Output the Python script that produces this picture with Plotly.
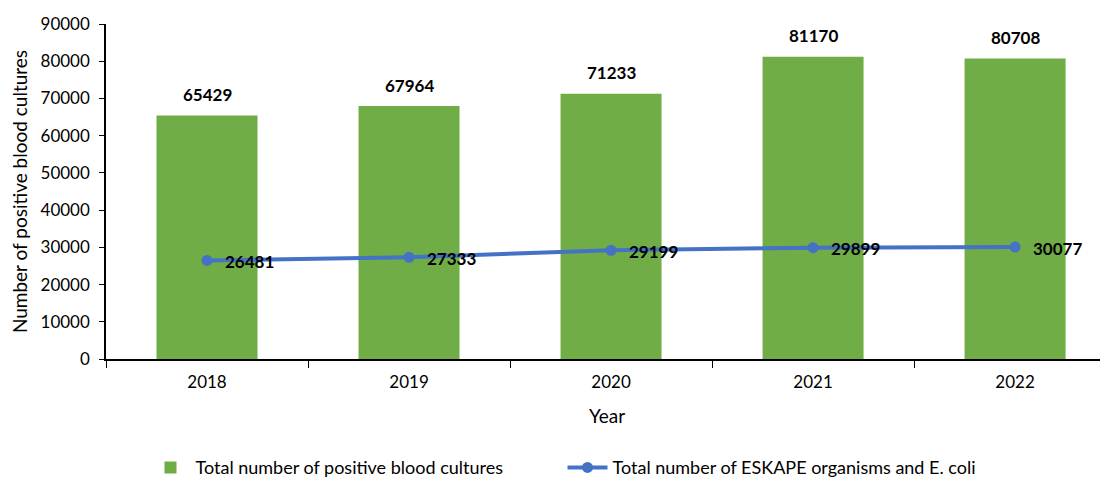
import plotly.graph_objects as go

years = ["2018", "2019", "2020", "2021", "2022"]
blood_cultures = [65429, 67964, 71233, 81170, 80708]
eskape = [26481, 27333, 29199, 29899, 30077]

FONT = "Lato, 'Open Sans', sans-serif"

fig = go.Figure()
fig.add_trace(go.Bar(
    x=years, y=blood_cultures, name="Total number of positive blood cultures",
    marker=dict(color="#70AD47", line=dict(width=0)), width=0.5,
))
fig.add_trace(go.Scatter(
    x=years, y=eskape, name="Total number of ESKAPE organisms and E. coli",
    mode="lines+markers", line=dict(color="#4472C4", width=4),
    marker=dict(color="#4472C4", size=11),
))
for i, v in enumerate(blood_cultures):
    fig.add_annotation(x=i, y=v, text=f"<b>{v}</b>", showarrow=False,
                       yanchor="middle", yshift=21,
                       font=dict(family=FONT, size=17, color="black"))
for i, v in enumerate(eskape):
    fig.add_annotation(x=i, y=v, text=f"<b>{v}</b>", showarrow=False,
                       xanchor="left", yanchor="middle", xshift=16, yshift=-1,
                       font=dict(family=FONT, size=17, color="black"))

fig.update_layout(
    width=1100, height=473,
    margin=dict(l=98, r=0, t=16, b=122, autoexpand=False),
    plot_bgcolor="white", paper_bgcolor="white",
    font=dict(family=FONT, size=17, color="black"),
    showlegend=True,
    legend=dict(orientation="h", xref="container", yref="container",
                x=0.125, xanchor="left", y=0.028, yanchor="middle",
                entrywidth=362, entrywidthmode="pixels",
                font=dict(family=FONT, size=18, color="black"), itemwidth=40),
    xaxis=dict(
        type="category",
        range=[-0.5, 4.46], showline=True, linecolor="black", linewidth=1.5,
        ticks="outside", tickson="boundaries", ticklen=7, tickcolor="black",
        ticklabelstandoff=7,
        title=dict(text="Year", font=dict(size=19), standoff=19),
        tickfont=dict(size=17), showgrid=False,
    ),
    yaxis=dict(
        range=[0, 90000], dtick=10000, tickformat="d",
        showline=True, linecolor="black", linewidth=1.5,
        ticks="outside", ticklen=5, tickcolor="black", showgrid=False, zeroline=False,
        ticklabelstandoff=6,
        title=dict(text="Number of positive blood cultures", font=dict(size=19), standoff=8),
        tickfont=dict(size=17),
    ),
)
fig.write_html("out.html")
